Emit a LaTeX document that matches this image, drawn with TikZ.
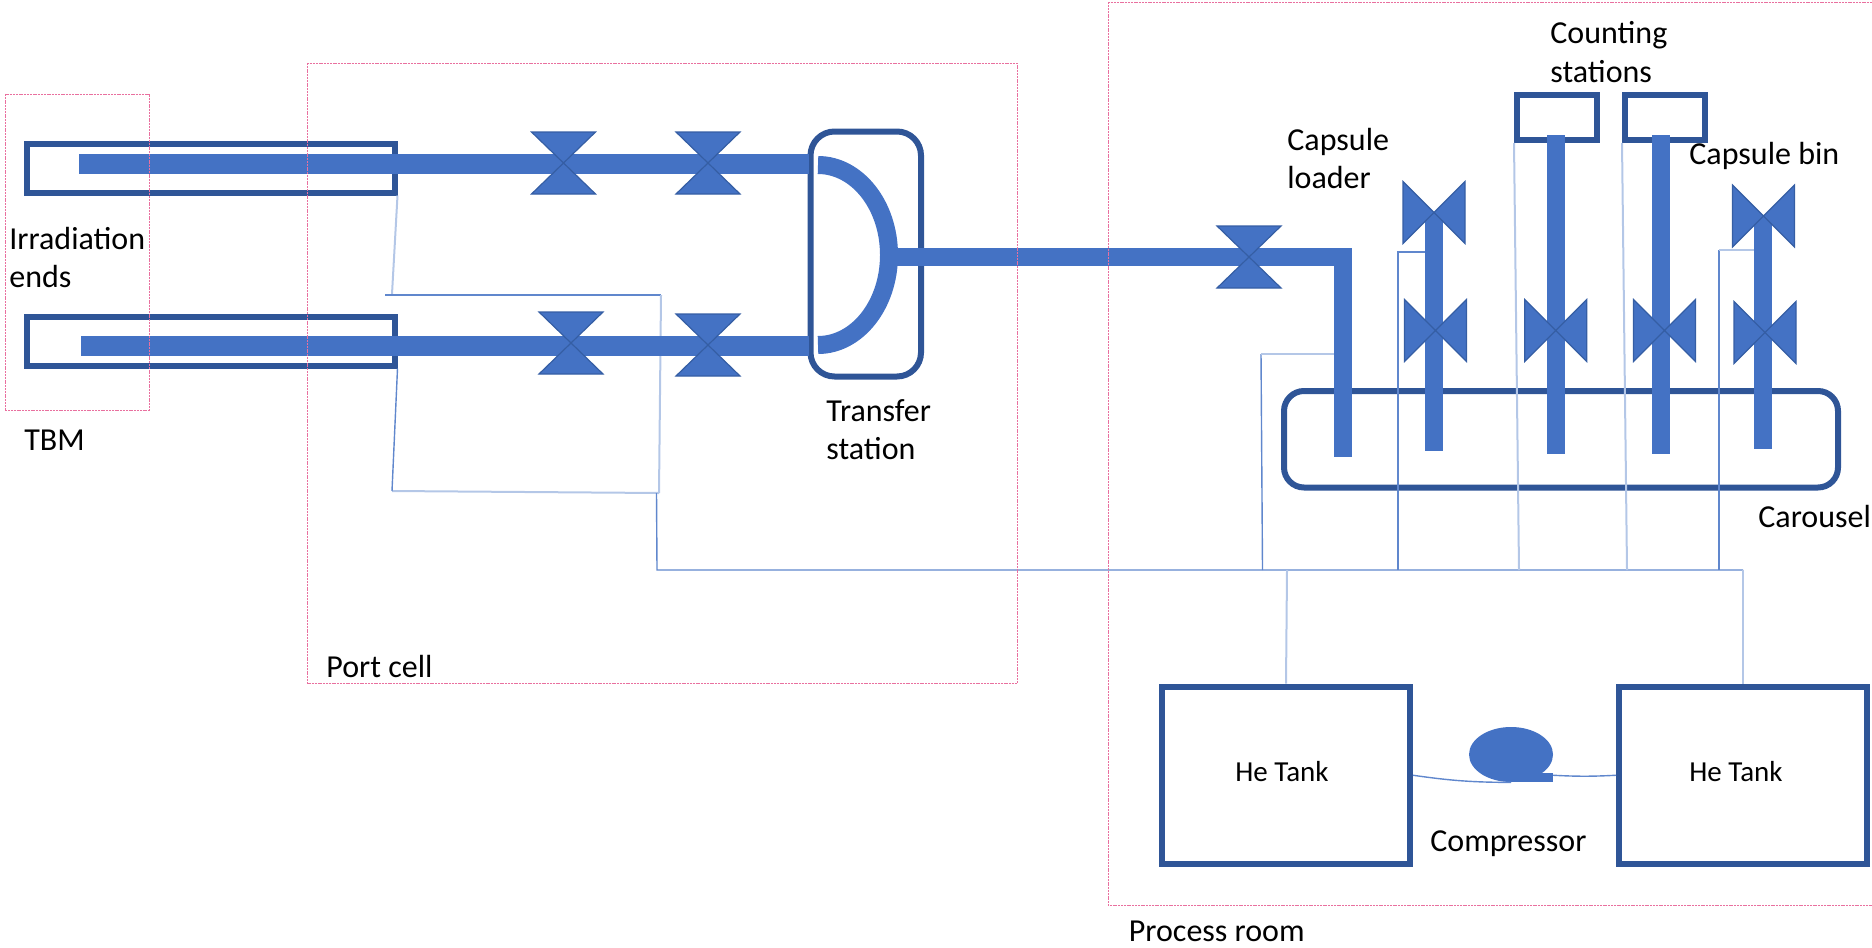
\documentclass[tikz,border=0pt]{standalone}
\usepackage{fontspec}
\setmainfont{Carlito}
\usepackage{tikz}
\usetikzlibrary{shapes}

\definecolor{pipeblue}{HTML}{4472C4}
\definecolor{boxblue}{HTML}{2F5597}
\definecolor{lightblue}{HTML}{B4C7E7}
\definecolor{roompink}{HTML}{E9709F}

\tikzset{
    pipe/.style={draw=pipeblue, line width=9pt},
    widepipe/.style={draw=pipeblue, line width=10pt},
    tube/.style={draw=pipeblue!85, line width=0.7pt},
    tubelight/.style={draw=lightblue, line width=1pt},
    room/.style={draw=roompink, line width=0.4pt, dash pattern=on 1pt off 0.4pt},
    vessel/.style={draw=boxblue, line width=3pt, rectangle, inner sep=0pt},
    txt/.style={anchor=west, align=left, inner sep=0pt, font=\fontsize{16}{19.2}\selectfont},
    tanktxt/.style={inner sep=0pt, font=\fontsize{14.5}{17}\selectfont},
    hvalve/.pic={\draw[fill=pipeblue, draw=boxblue!70!pipeblue, line width=0.6pt] (-32,-31) -- (32,-31) -- (-32,31) -- (32,31) -- cycle;},
    vvalve/.pic={\draw[fill=pipeblue, draw=boxblue!70!pipeblue, line width=0.6pt] (-31,-31) -- (-31,31) -- (31,-31) -- (31,31) -- cycle;}
}

\begin{document}
\begin{tikzpicture}[x=0.5pt, y=-0.5pt]
        \useasboundingbox (0,0) rectangle (1872,947);

        % Vessels
        \node[vessel, minimum width=184pt, minimum height=24.5pt] (irrU) at (210.5,168) {};
        \node[vessel, minimum width=184pt, minimum height=24.5pt] (irrL) at (210.5,341) {};
        \node[vessel, rounded corners=12pt, minimum width=55.25pt, minimum height=122.5pt] (transfer) at (865.75,254) {};
        \node[vessel, minimum width=40pt, minimum height=22.25pt] (countA) at (1557,117.75) {};
        \node[vessel, minimum width=40pt, minimum height=22.25pt] (countB) at (1665,117.75) {};
        \node[vessel, rounded corners=10pt, minimum width=277pt, minimum height=48.25pt] (carousel) at (1561,439.25) {};
        \node[vessel, minimum width=124pt, minimum height=88.75pt] (tankL) at (1286,775.25) {};
        \node[vessel, minimum width=124pt, minimum height=88.75pt] (tankR) at (1743,775.25) {};
        \node[ellipse, fill=pipeblue, inner sep=0pt, minimum width=42pt, minimum height=27.5pt] (comp) at (1511,754.5) {};
        \coordinate (compTail) at (1553,773);
        \fill[pipeblue] (comp.south) rectangle (compTail);

        % Pipe ends
        \coordinate (startU) at (79,164);
        \coordinate (stopU) at (809,164);
        \coordinate (startL) at (81,345.5);
        \coordinate (stopL) at (809,345.5);
        \coordinate (outA) at (889,257);
        \coordinate (outB) at (1343,257);
        \coordinate (outC) at (1343,457);
        \coordinate (binAtop) at (1434,212);
        \coordinate (binAend) at (1434,451);
        \coordinate (cntAtop) at (1556,135);
        \coordinate (cntAend) at (1556,453.5);
        \coordinate (cntBtop) at (1661,135);
        \coordinate (cntBend) at (1661,453.5);
        \coordinate (binBtop) at (1763,216);
        \coordinate (binBend) at (1763,448.5);

        % Helium lines
        \coordinate (portA) at (392,294);
        \coordinate (portA2) at (385,295);
        \coordinate (portB) at (661,295);
        \coordinate (portC) at (659,493);
        \coordinate (portD) at (392,491);
        \coordinate (headL) at (656.5,493);
        \coordinate (headM) at (657,570);
        \coordinate (headR) at (1743,570);
        \coordinate (tapA) at (1262.5,570);
        \coordinate (tapA1) at (1261,354);
        \coordinate (tapA2) at (1334,354);
        \coordinate (tapB) at (1398,570);
        \coordinate (tapB1) at (1398,252);
        \coordinate (tapB2) at (1425,252);
        \coordinate (tapC) at (1519,570);
        \coordinate (tapD) at (1627,570);
        \coordinate (tapE) at (1719,570);
        \coordinate (tapE1) at (1719,250);
        \coordinate (tapE2) at (1754,250);
        \coordinate (tapF) at (1287,570);

        \draw[tubelight] (irrU.south east) -- (portA);
        \draw[tube] (portA2) -- (portB);
        \draw[tubelight] (portB) -- (portC);
        \draw[tubelight] (portC) -- (portD);
        \draw[tube] (portD) -- (irrL.south east);
        \draw[tube] (headL) -- (headM) -- (headR);
        \draw[tube] (tapA) -- (tapA1);
        \draw[tubelight] (tapA1) -- (tapA2);
        \draw[tube] (tapB) -- (tapB1) -- (tapB2);
        \draw[tubelight] (tapC) -- (countA.south west);
        \draw[tubelight] (tapD) -- (countB.south west);
        \draw[tube] (tapE) -- (tapE1);
        \draw[tubelight] (tapE1) -- (tapE2);
        \draw[tubelight] (tapF) -- (tankL.north);
        \draw[tubelight] (headR) -- (tankR.north);
        \draw[tube] (tankL.east) to[bend right=4] (comp.south);
        \draw[tube] (compTail |- tankR.west) to[bend right=3] (tankR.west);

        % Transfer pipes
        \draw[widepipe] (startU) -- (stopU);
        \draw[widepipe] (startL) -- (stopL);
        \draw[pipeblue, line width=9pt] (818,165) .. controls (857,165) and (889,205) .. (889,255) .. controls (889,305) and (857,345) .. (818,345);
        \draw[pipe] (outA) -- (outB) -- (outC);
        \draw[pipe] (binAtop) -- (binAend);
        \draw[pipe] (cntAtop) -- (cntAend);
        \draw[pipe] (cntBtop) -- (cntBend);
        \draw[pipe] (binBtop) -- (binBend);

        % Valves
        \pic at (563.5,163) {hvalve};
        \pic at (708,163) {hvalve};
        \pic at (571,343) {hvalve};
        \pic at (708,345) {hvalve};
        \pic at (1249,257) {hvalve};
        \pic at (1434,212.5) {vvalve};
        \pic at (1435.5,330.5) {vvalve};
        \pic at (1555.7,330.5) {vvalve};
        \pic at (1664.5,330.5) {vvalve};
        \pic at (1763.5,216) {vvalve};
        \pic at (1765,332.5) {vvalve};

        % Rooms
        \draw[room] (5,94) rectangle (149,410);
        \draw[room] (307.5,63) rectangle (1017,683);
        \draw[room] (1872,2) -- (1108,2) -- (1108,905) -- (1872,905);

        % Labels
        \node[txt] (irrText) at (9,257.5) {Irradiation\\ends};
        \node[txt] (tbmText) at (24,440) {TBM};
        \node[txt] (transferText) at (826,429.5) {Transfer\\station};
        \node[txt] (portText) at (326,666) {Port cell};
        \node[txt] (processText) at (1128.5,931) {Process room};
        \node[txt] (compText) at (1430,844) {Compressor};
        \node[txt] (loaderText) at (1287,158.5) {Capsule\\loader};
        \node[txt] (countText) at (1550,52) {Counting\\stations};
        \node[txt] (binText) at (1689,156) {Capsule bin};
        \node[txt] (carouselText) at (1758,517) {Carousel};
        \node[tanktxt] (tankLText) at (1282,772) {He Tank};
        \node[tanktxt] (tankRText) at (1736,772) {He Tank};
\end{tikzpicture}
\end{document}
